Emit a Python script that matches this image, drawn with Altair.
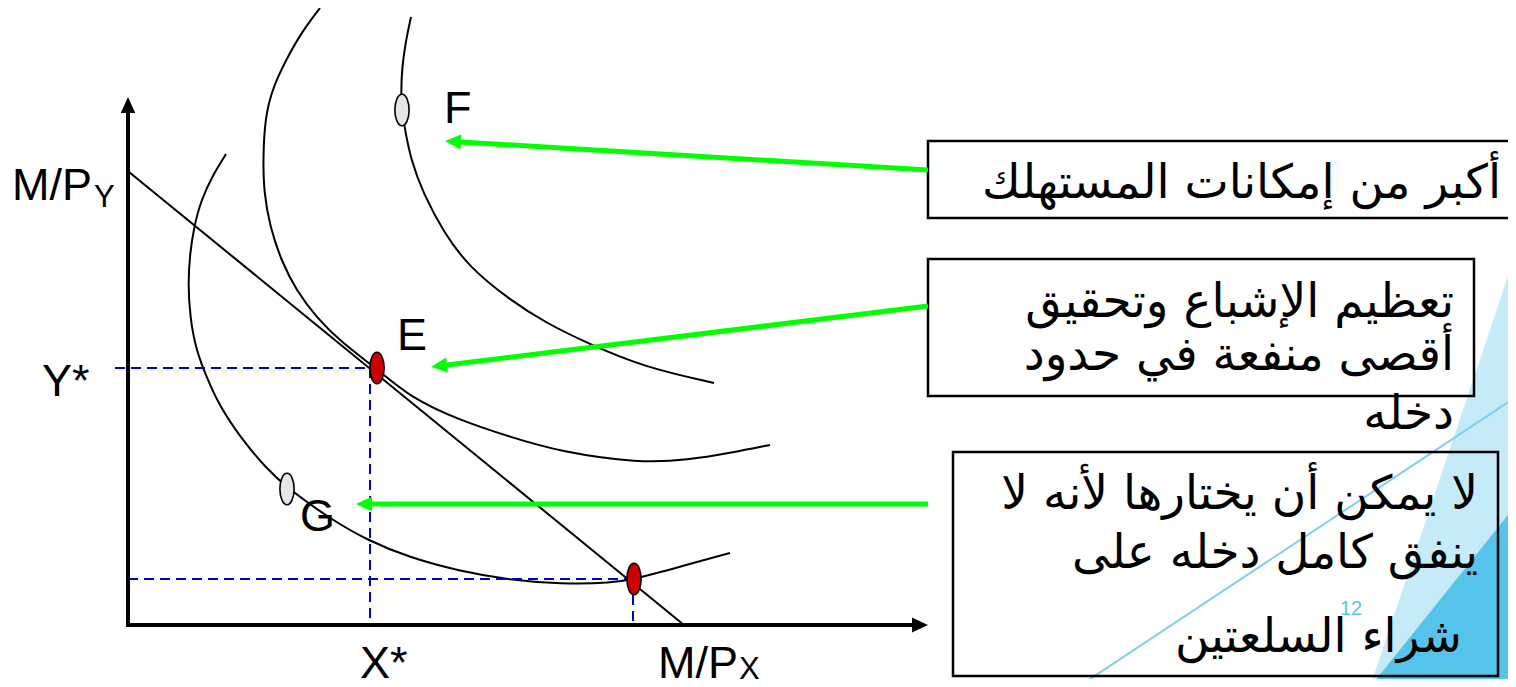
import altair as alt
import pandas as pd

# ---------------- data (diagram units; origin at the axes corner) ----------------
W, H = 1500, 671
XD = [-120, 1380]
YD = [-54, 617]

# indifference curve U1 (through G and the lower budget point)
u1_x = [98, 86, 73, 66, 62, 60, 62, 68, 79, 91, 112, 137, 159, 204, 239, 280, 331, 382, 433, 484, 506, 551, 602]
u1_y = [471, 452, 425, 398, 372, 342, 308, 275, 247, 220, 188, 158, 137, 105, 85, 68, 54, 45, 41, 42, 46, 58, 72]
# indifference curve U2 (tangent at E)
u2_x = [192, 173, 158, 145, 137, 135, 136, 142, 153, 168, 188, 214, 248, 283, 331, 382, 433, 510, 561, 602, 642]
u2_y = [617, 592, 565, 538, 508, 465, 432, 398, 365, 335, 308, 282, 257, 227, 205, 188, 173, 162, 165, 172, 180]
# indifference curve U3 (through F)
u3_x = [283, 278, 274, 273, 274, 277, 283, 295, 316, 341, 382, 418, 459, 515, 586]
u3_y = [608, 585, 558, 532, 515, 495, 465, 432, 392, 358, 325, 302, 282, 258, 242]

# budget line: M/P_Y on the Y axis, M/P_X on the X axis
budget_x = [1, 556]
budget_y = [453, 0]

# points
pt_names = ["E", "B", "F", "G"]
pt_x = [249, 506, 274, 159]
pt_y = [257, 46, 515, 136]
pt_fill = ["#CC0000", "#CC0000", "#E6E6E6", "#E6E6E6"]

# dashed guide lines (x, y, x2, y2)
dash_x = [-13, 242, 0, 505]
dash_y = [257, 257, 46, 46]
dash_x2 = [242, 242, 505, 505]
dash_y2 = [257, 0, 46, 0]

# axes
axis_x = [0, -2]
axis_y = [-2, 0]
axis_x2 = [0, 787]
axis_y2 = [515, 0]
axhead_x = [0, 792]
axhead_y = [520, 0]

# green arrows (tail -> tip)
arr_x = [800, 800, 800]
arr_y = [455, 319, 121]
arr_x2 = [333, 319, 244]
arr_y2 = [483, 260, 121]
arrhead_x = [325, 311, 236]
arrhead_y = [483.5, 259, 121]
arrhead_angle = [3.4, 353, 0]

# text boxes (x, y, x2, y2)
box_x = [800, 800, 825]
box_y = [484, 366, 173]
box_x2 = [1402, 1346, 1370]
box_y2 = [407, 229, -51]

# Arabic box texts (right edge, baseline)
ar_text = ["أكبر من إمكانات المستهلك",
           "تعظيم الإشباع وتحقيق",
           "أقصى منفعة في حدود",
           "دخله",
           "لا يمكن أن يختارها لأنه لا",
           "ينفق كامل دخله على",
           "شراء السلعتين"]
ar_x = [1373, 1326, 1326, 1326, 1350, 1350, 1334]
ar_y = [427, 308, 255, 196, 116, 57, -27]

# Latin labels (left, baseline)
lab_text = ["M/P", "Y*", "X*", "M/P", "F", "E", "G"]
lab_x = [-116, -86, 232, 530, 316, 269, 172]
lab_y = [425, 229, -53, -53, 502, 275, 94]
sub_text = ["Y", "X"]
sub_x = [-34, 611]
sub_y = [418, -54]

# slide decoration
tri_light_x = [1242, 1388]
tri_light_y = [-62, 373]
tri_dark_x = [1242, 1388]
tri_dark_y = [-62, 120]
deco_line_x = [950, 1388]
deco_line_y = [-62, 228]
page_num = ["12"]
page_x = [1212]
page_y = [10]

# ---------------- chart ----------------
xs = alt.Scale(domain=XD, nice=False, zero=False)
ys = alt.Scale(domain=YD, nice=False, zero=False)


def X(f="x"):
    return alt.X(f"{f}:Q", scale=xs, axis=None)


def Y(f="y"):
    return alt.Y(f"{f}:Q", scale=ys, axis=None)


ELLIPSE = "M0,-1A0.45,1,0,1,1,0,1A0.45,1,0,1,1,0,-1Z"
HEAD_UP = "M0,-1L0.9,1L-0.9,1Z"
HEAD_RIGHT = "M1,0L-1,0.95L-1,-0.95Z"
HEAD_LEFT = "M-1,0L1,-0.95L1,0.95Z"

layers = []

# decoration triangles
tl = pd.DataFrame({"x": tri_light_x, "y": tri_light_y, "y2": [-62] * 2})
layers.append(alt.Chart(tl).mark_area(color="#C5EAF8", opacity=1).encode(
    x=X(), y=Y(), y2="y2:Q"))
td = pd.DataFrame({"x": tri_dark_x, "y": tri_dark_y, "y2": [-62] * 2})
layers.append(alt.Chart(td).mark_area(color="#56C4EA", opacity=1).encode(
    x=X(), y=Y(), y2="y2:Q"))
dl = pd.DataFrame({"x": [deco_line_x[0]], "y": [deco_line_y[0]],
                   "x2": [deco_line_x[1]], "y2": [deco_line_y[1]]})
layers.append(alt.Chart(dl).mark_rule(color="#7FD0EE", strokeWidth=2).encode(
    x=X(), y=Y(), x2="x2:Q", y2="y2:Q"))
layers.append(alt.Chart(pd.DataFrame({"x": page_x, "y": page_y, "t": page_num})).mark_text(
    align="left", baseline="alphabetic", font="Liberation Sans", fontSize=20, color="#5BC3EA"
).encode(x=X(), y=Y(), text="t:N"))

# text boxes
bx = pd.DataFrame({"x": box_x, "y": box_y, "x2": box_x2, "y2": box_y2})
layers.append(alt.Chart(bx).mark_rect(fill="white", fillOpacity=0, stroke="black",
                                      strokeWidth=2.5).encode(
    x=X(), y=Y(), x2="x2:Q", y2="y2:Q"))

# indifference curves
rows = []
for name, xs_, ys_ in [("U1", u1_x, u1_y), ("U2", u2_x, u2_y), ("U3", u3_x, u3_y)]:
    for i, (a, b) in enumerate(zip(xs_, ys_)):
        rows.append({"curve": name, "i": i, "x": a, "y": b})
cv = pd.DataFrame(rows)
layers.append(alt.Chart(cv).mark_line(color="black", strokeWidth=2, interpolate="basis").encode(
    x=X(), y=Y(), detail="curve:N", order="i:Q"))

# budget line
bl = pd.DataFrame({"x": [budget_x[0]], "y": [budget_y[0]], "x2": [budget_x[1]], "y2": [budget_y[1]]})
layers.append(alt.Chart(bl).mark_rule(color="black", strokeWidth=2).encode(
    x=X(), y=Y(), x2="x2:Q", y2="y2:Q"))

# dashed guides
dd = pd.DataFrame({"x": dash_x, "y": dash_y, "x2": dash_x2, "y2": dash_y2})
layers.append(alt.Chart(dd).mark_rule(color="#0000CC", strokeWidth=2, strokeDash=[10, 6]).encode(
    x=X(), y=Y(), x2="x2:Q", y2="y2:Q"))

# axes
ax = pd.DataFrame({"x": axis_x, "y": axis_y, "x2": axis_x2, "y2": axis_y2})
layers.append(alt.Chart(ax).mark_rule(color="black", strokeWidth=4).encode(
    x=X(), y=Y(), x2="x2:Q", y2="y2:Q"))
layers.append(alt.Chart(pd.DataFrame({"x": [axhead_x[0]], "y": [axhead_y[0]]})).mark_point(
    shape=HEAD_UP, size=256, filled=True, fill="black", strokeWidth=0, opacity=1).encode(x=X(), y=Y()))
layers.append(alt.Chart(pd.DataFrame({"x": [axhead_x[1]], "y": [axhead_y[1]]})).mark_point(
    shape=HEAD_RIGHT, size=256, filled=True, fill="black", strokeWidth=0, opacity=1).encode(x=X(), y=Y()))

# green arrows
ga = pd.DataFrame({"x": arr_x, "y": arr_y, "x2": arr_x2, "y2": arr_y2})
layers.append(alt.Chart(ga).mark_rule(color="#00FF00", strokeWidth=5).encode(
    x=X(), y=Y(), x2="x2:Q", y2="y2:Q"))
for hx, hy, ang in zip(arrhead_x, arrhead_y, arrhead_angle):
    layers.append(alt.Chart(pd.DataFrame({"x": [hx], "y": [hy]})).mark_point(
        shape=HEAD_LEFT, size=256, filled=True, fill="#00FF00", strokeWidth=0, opacity=1,
        angle=ang).encode(x=X(), y=Y()))

# points
pts = pd.DataFrame({"x": pt_x, "y": pt_y, "fill": pt_fill, "name": pt_names})
layers.append(alt.Chart(pts).mark_point(
    shape=ELLIPSE, size=1000, filled=True, stroke="black", strokeWidth=1.6, opacity=1,
    fillOpacity=1, strokeOpacity=1).encode(
    x=X(), y=Y(), fill=alt.Fill("fill:N", scale=None)))

# labels
lb = pd.DataFrame({"x": lab_x, "y": lab_y, "t": lab_text})
layers.append(alt.Chart(lb).mark_text(
    align="left", baseline="alphabetic", font="Liberation Sans", fontSize=45, color="black"
).encode(x=X(), y=Y(), text="t:N"))
sb = pd.DataFrame({"x": sub_x, "y": sub_y, "t": sub_text})
layers.append(alt.Chart(sb).mark_text(
    align="left", baseline="alphabetic", font="Liberation Sans", fontSize=31, color="black"
).encode(x=X(), y=Y(), text="t:N"))

# Arabic texts
at = pd.DataFrame({"x": ar_x, "y": ar_y, "t": ar_text})
layers.append(alt.Chart(at).mark_text(
    align="right", baseline="alphabetic", font="DejaVu Sans", fontSize=47, color="black"
).encode(x=X(), y=Y(), text="t:N"))

chart = alt.layer(*layers).properties(
    width=W, height=H, autosize="none", padding=0, background="white"
).configure_view(stroke=None)

chart.save("out.html", embed_options={"renderer": "svg", "actions": False})
